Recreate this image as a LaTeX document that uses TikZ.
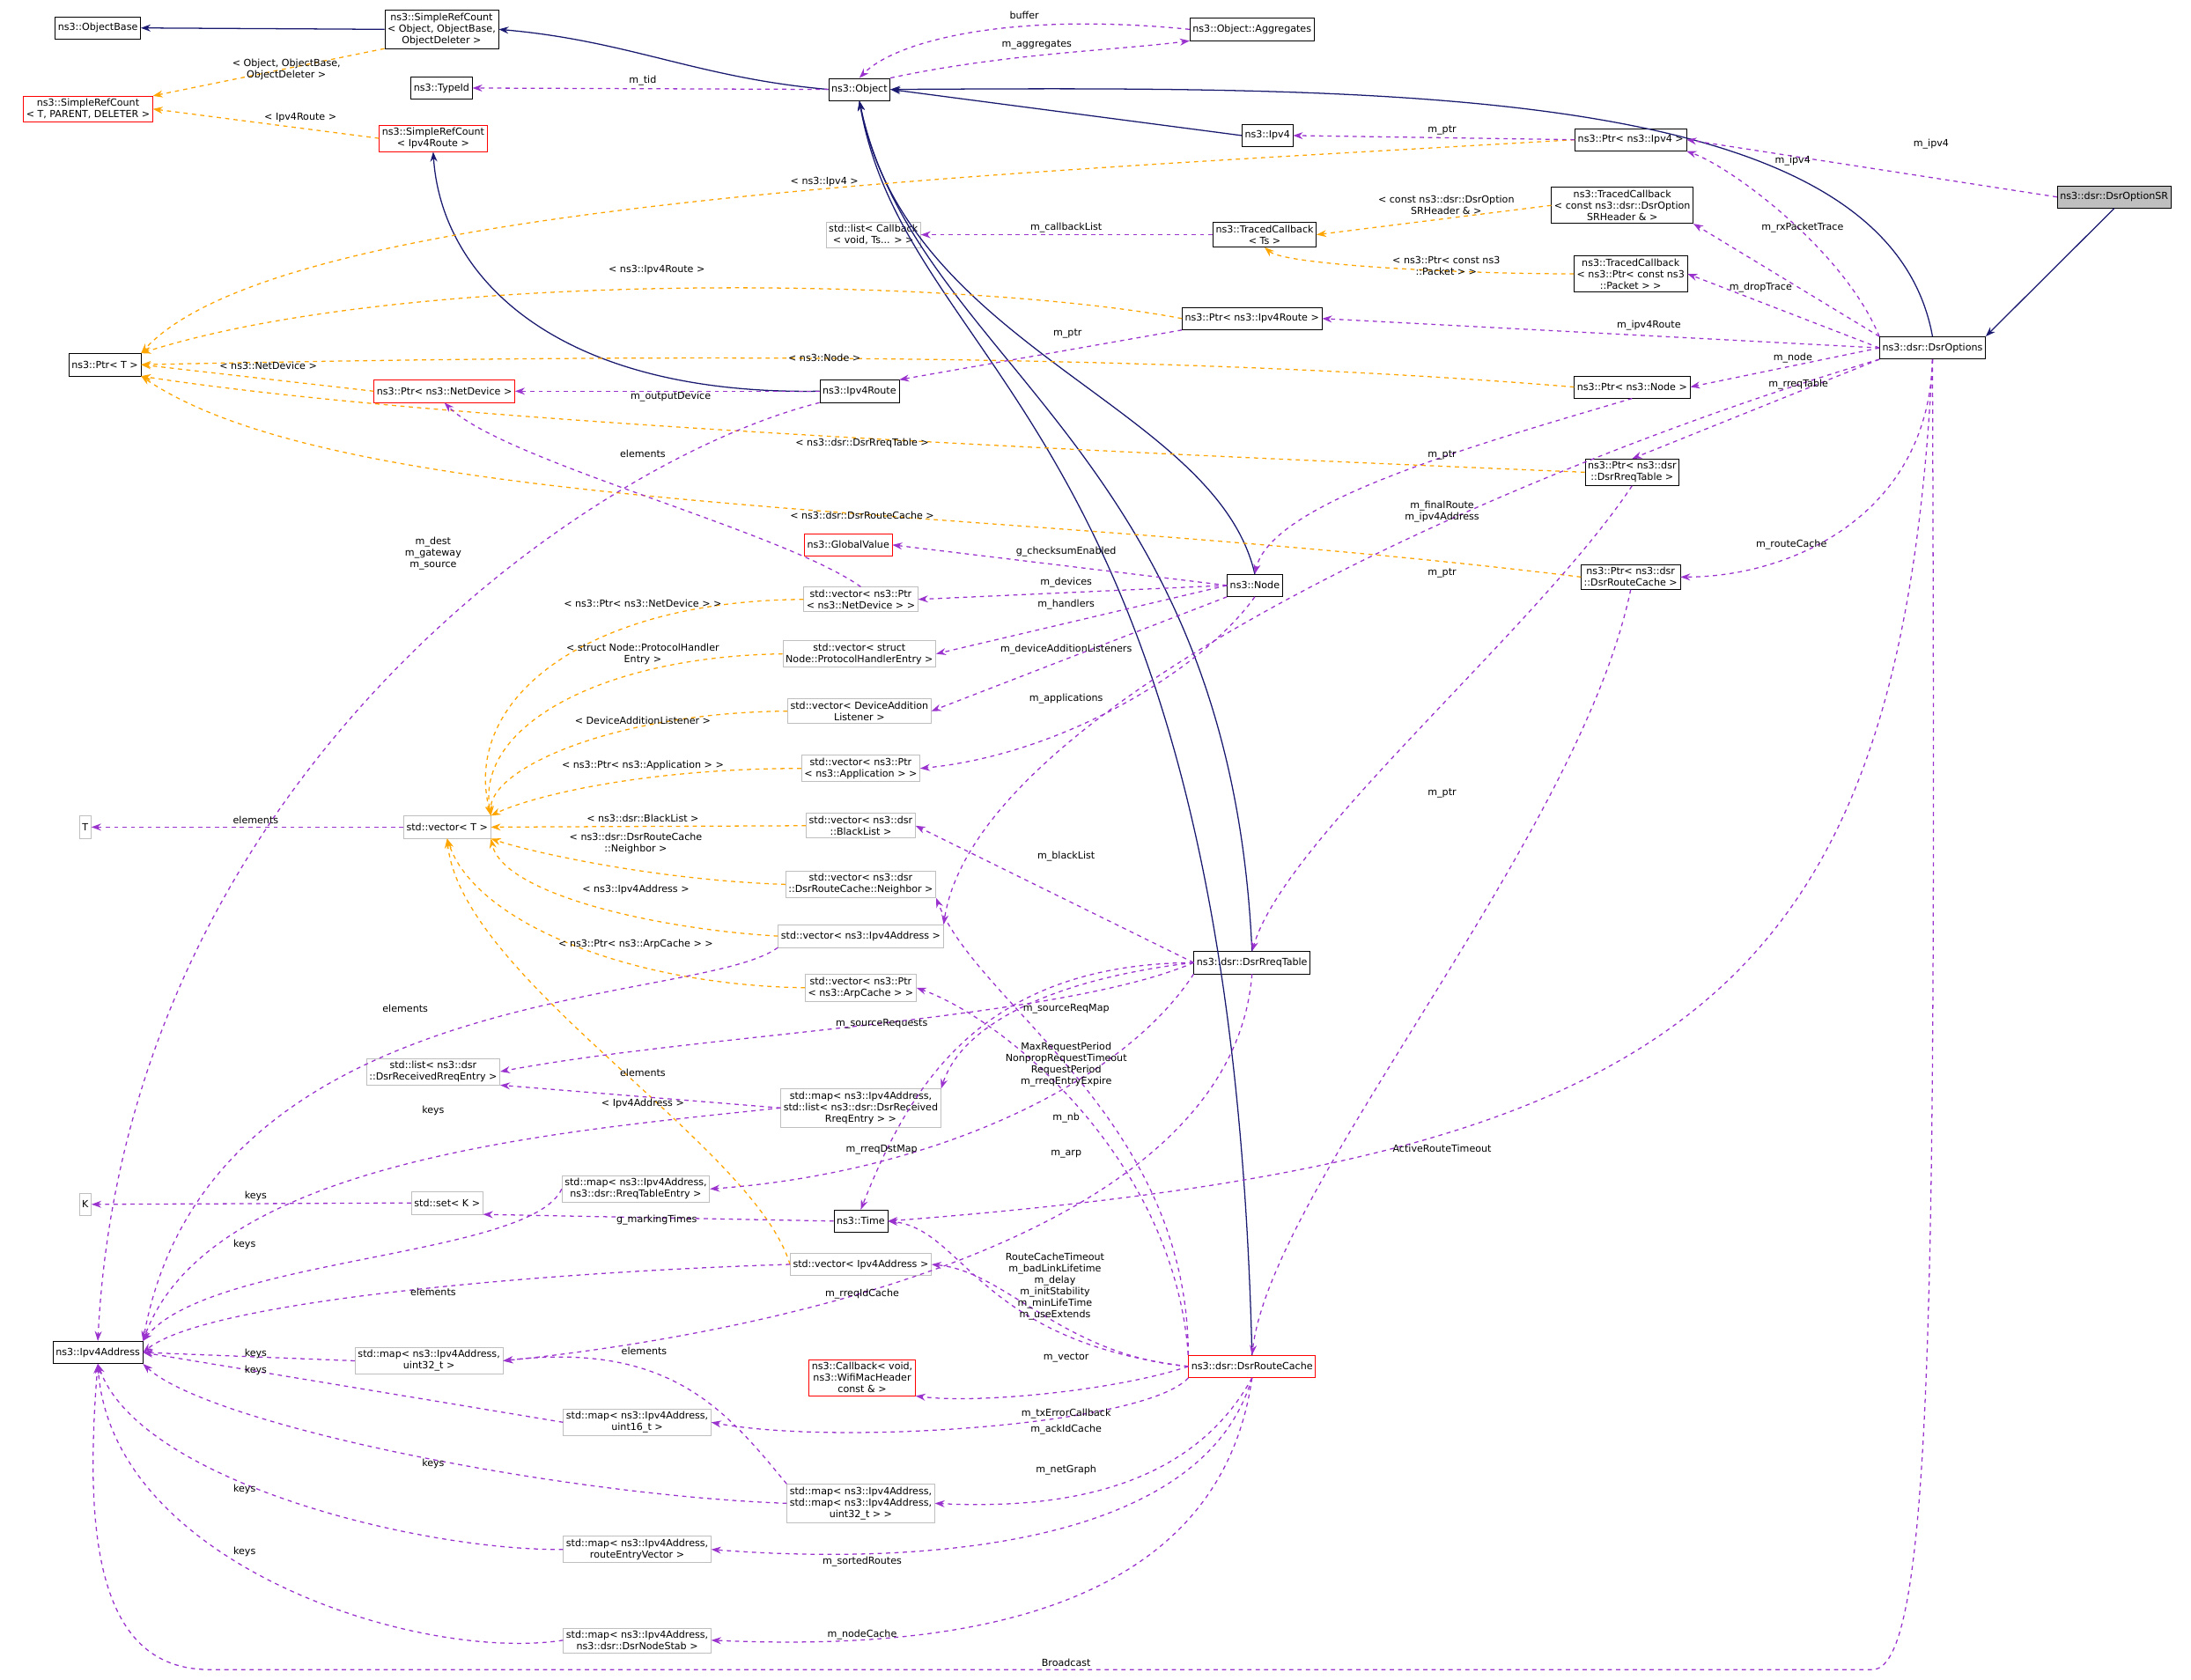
\documentclass[tikz,border=0pt]{standalone}
\usepackage{fontspec}
\setmainfont{DejaVu Sans}
\usepackage{tikz}
\usetikzlibrary{arrows.meta}
\definecolor{usecol}{HTML}{9A32CD}
\definecolor{tplcol}{HTML}{FFA500}
\definecolor{inhcol}{HTML}{191970}
\definecolor{grayline}{HTML}{BFBFBF}
\tikzset{
  cls/.style={draw=black, rectangle, inner sep=2pt, minimum height=16pt, align=center, font=\fontsize{7}{8.2}\selectfont},
  clsg/.style={cls, draw=grayline},
  clsr/.style={cls, draw=red},
  clsf/.style={cls, fill=grayline},
  inh/.style={draw=inhcol, thick, -{Stealth[length=7pt,width=5pt]}},
  tpl/.style={draw=tplcol, dashed, thick, -{Stealth[length=7pt,width=5pt]}},
  use/.style={draw=usecol, dashed, thick, -{Stealth[length=7pt,width=5pt]}},
  lbl/.style={inner sep=0pt, align=center, font=\fontsize{7}{8.2}\selectfont}
}
\newcommand{\lab}[4]{\node[lbl] (#1) at (#2,#3) {#4};}
\begin{document}
\begin{tikzpicture}[x=1pt,y=-1pt]
        \useasboundingbox (0,0) rectangle (1568,1202);

        % classes
        \node[cls] (objbase) at (70,20) {ns3::ObjectBase};
        \node[cls] (srcobj) at (316,21) {ns3::SimpleRefCount\\< Object, ObjectBase,\\ObjectDeleter >};
        \node[clsr] (srct) at (63,78) {ns3::SimpleRefCount\\< T, PARENT, DELETER >};
        \node[cls] (typeid) at (316,63) {ns3::TypeId};
        \node[cls] (object) at (615,64) {ns3::Object};
        \node[cls] (aggr) at (896,21) {ns3::Object::Aggregates};
        \node[clsr] (srcroute) at (310,99) {ns3::SimpleRefCount\\< Ipv4Route >};
        \node[cls] (ipv4) at (907,97) {ns3::Ipv4};
        \node[cls] (ptripv4) at (1167,100) {ns3::Ptr< ns3::Ipv4 >};
        \node[clsf] (optsr) at (1513,141) {ns3::dsr::DsrOptionSR};
        \node[cls] (tcsr) at (1161,147) {ns3::TracedCallback\\< const ns3::dsr::DsrOption\\SRHeader \& >};
        \node[clsg] (listcb) at (625,168) {std::list< Callback\\< void, Ts... > >};
        \node[cls] (tcts) at (905,168) {ns3::TracedCallback\\< Ts >};
        \node[cls] (tcpkt) at (1167,196) {ns3::TracedCallback\\< ns3::Ptr< const ns3\\::Packet > >};
        \node[cls] (ptrt) at (75,261) {ns3::Ptr< T >};
        \node[cls] (ptrroute) at (896,228) {ns3::Ptr< ns3::Ipv4Route >};
        \node[cls] (dsropt) at (1383,249) {ns3::dsr::DsrOptions};
        \node[clsr] (ptrnd) at (318,280) {ns3::Ptr< ns3::NetDevice >};
        \node[cls] (ipv4route) at (615,280) {ns3::Ipv4Route};
        \node[cls] (ptrnode) at (1168,277) {ns3::Ptr< ns3::Node >};
        \node[cls] (ptrrreq) at (1168,338) {ns3::Ptr< ns3::dsr\\::DsrRreqTable >};
        \node[clsr] (globalv) at (607,390) {ns3::GlobalValue};
        \node[cls] (ptrcache) at (1167,413) {ns3::Ptr< ns3::dsr\\::DsrRouteCache >};
        \node[cls] (node) at (898,419) {ns3::Node};
        \node[clsg] (vnd) at (616,429) {std::vector< ns3::Ptr\\< ns3::NetDevice > >};
        \node[clsg] (vphe) at (615,468) {std::vector< struct\\Node::ProtocolHandlerEntry >};
        \node[clsg] (vdal) at (615,509) {std::vector< DeviceAddition\\Listener >};
        \node[clsg] (vapp) at (616,550) {std::vector< ns3::Ptr\\< ns3::Application > >};
        \node[clsg] (tnode) at (61,592) {T};
        \node[clsg] (vt) at (320,592) {std::vector< T >};
        \node[clsg] (vbl) at (616,591) {std::vector< ns3::dsr\\::BlackList >};
        \node[clsg] (vnb) at (616,633) {std::vector< ns3::dsr\\::DsrRouteCache::Neighbor >};
        \node[clsg] (vip) at (616,670) {std::vector< ns3::Ipv4Address >};
        \node[cls] (rreq) at (896,689) {ns3::dsr::DsrRreqTable};
        \node[clsg] (varp) at (616,707) {std::vector< ns3::Ptr\\< ns3::ArpCache > >};
        \node[clsg] (lrre) at (310,767) {std::list< ns3::dsr\\::DsrReceivedRreqEntry >};
        \node[clsg] (mlist) at (616,793) {std::map< ns3::Ipv4Address,\\std::list< ns3::dsr::DsrReceived\\RreqEntry > >};
        \node[clsg] (knode) at (61,862) {K};
        \node[clsg] (setk) at (320,861) {std::set< K >};
        \node[clsg] (mrte) at (455,851) {std::map< ns3::Ipv4Address,\\ns3::dsr::RreqTableEntry >};
        \node[cls] (time) at (616,874) {ns3::Time};
        \node[clsg] (vipa) at (616,905) {std::vector< Ipv4Address >};
        \node[cls] (ipaddr) at (70,968) {ns3::Ipv4Address};
        \node[clsg] (m32) at (307,974) {std::map< ns3::Ipv4Address,\\uint32\_t >};
        \node[clsr] (cb) at (617,986) {ns3::Callback< void,\\ns3::WifiMacHeader\\const \& >};
        \node[clsr] (rcache) at (896,978) {ns3::dsr::DsrRouteCache};
        \node[clsg] (m16) at (456,1018) {std::map< ns3::Ipv4Address,\\uint16\_t >};
        \node[clsg] (mmap) at (616,1076) {std::map< ns3::Ipv4Address,\\std::map< ns3::Ipv4Address,\\uint32\_t > >};
        \node[clsg] (mrev) at (456,1109) {std::map< ns3::Ipv4Address,\\routeEntryVector >};
        \node[clsg] (mstab) at (456,1174) {std::map< ns3::Ipv4Address,\\ns3::dsr::DsrNodeStab >};
        \coordinate (bcr) at (1340,1195);
        \coordinate (bcl) at (150,1195);

        % inheritance
        \draw[inh] (srcobj.west) -- (objbase.east);
        \draw[inh] (object.west) to[out=175,in=-5] (srcobj.east);
        \draw[inh] (ipv4.west) -- (object.east);
        \draw[inh] (dsropt.north) .. controls (1350,60) and (1000,62) .. (object.east);
        \draw[inh] (ipv4route.west) .. controls (400,283) and (316,200) .. (srcroute.south);
        \draw[inh] (node.north) .. controls (870,290) and (650,250) .. (object.south);
        \draw[inh] (rreq.north) .. controls (880,320) and (655,260) .. (object.south);
        \draw[inh] (rcache.north) .. controls (880,300) and (650,270) .. (object.south);
        \draw[inh] (optsr.south) -- (dsropt.north east);

        % templates
        \draw[tpl] (srcobj.south west) -- (srct.north east);
        \draw[tpl] (srcroute.west) -- (srct.east);
        \draw[tpl] (ptripv4.west) .. controls (700,125) and (200,145) .. (ptrt.north east);
        \draw[tpl] (ptrroute.west) .. controls (700,200) and (300,190) .. (ptrt.north east);
        \draw[tpl] (ptrnode.west) .. controls (800,250) and (400,255) .. (ptrt.east);
        \draw[tpl] (ptrnd.west) -- (ptrt.east);
        \draw[tpl] (ptrrreq.west) .. controls (700,320) and (300,300) .. (ptrt.south east);
        \draw[tpl] (ptrcache.west) .. controls (700,360) and (250,370) .. (ptrt.south east);
        \draw[tpl] (tcsr.west) -- (tcts.east);
        \draw[tpl] (tcpkt.west) .. controls (1050,196) and (920,190) .. (tcts.south);
        \draw[tpl] (vnd.west) .. controls (420,430) and (330,500) .. (vt.north east);
        \draw[tpl] (vphe.west) .. controls (430,470) and (340,520) .. (vt.north east);
        \draw[tpl] (vdal.west) .. controls (440,510) and (350,550) .. (vt.north east);
        \draw[tpl] (vapp.west) .. controls (460,550) and (380,570) .. (vt.north east);
        \draw[tpl] (vbl.west) -- (vt.east);
        \draw[tpl] (vnb.west) .. controls (470,630) and (380,610) .. (vt.south east);
        \draw[tpl] (vip.west) .. controls (470,665) and (360,640) .. (vt.south east);
        \draw[tpl] (varp.west) .. controls (450,705) and (340,660) .. (vt.south);
        \draw[tpl] (vipa.west) .. controls (540,820) and (330,700) .. (vt.south);

        % usage
        \draw[use] (object.west) -- (typeid.east);
        \draw[use] (aggr.west) .. controls (720,8) and (640,30) .. (object.north);
        \draw[use] (object.north east) .. controls (720,38) and (800,36) .. (aggr.south west);
        \draw[use] (ptripv4.west) -- (ipv4.east);
        \draw[use] (optsr.west) -- (ptripv4.east);
        \draw[use] (dsropt.north west) .. controls (1320,180) and (1240,120) .. (ptripv4.south east);
        \draw[use] (tcts.west) -- (listcb.east);
        \draw[use] (dsropt.north west) -- (tcsr.south east);
        \draw[use] (dsropt.west) -- (tcpkt.east);
        \draw[use] (dsropt.west) -- (ptrroute.east);
        \draw[use] (ptrroute.south west) -- (ipv4route.north east);
        \draw[use] (ipv4route.west) -- (ptrnd.east);
        \draw[use] (dsropt.west) -- (ptrnode.east);
        \draw[use] (ptrnode.south) .. controls (1050,320) and (910,360) .. (node.north);
        \draw[use] (dsropt.south west) -- (ptrrreq.north);
        \draw[use] (ptrrreq.south) .. controls (1100,450) and (920,600) .. (rreq.north);
        \draw[use] (dsropt.south) .. controls (1380,370) and (1280,413) .. (ptrcache.east);
        \draw[use] (ptrcache.south) .. controls (1130,600) and (910,850) .. (rcache.north);
        \draw[use] (dsropt.south west) .. controls (1100,330) and (700,500) .. (vip.north east);
        \draw[use] (ipv4route.south west) .. controls (420,330) and (90,560) .. (ipaddr.north);
        \draw[use] (vnd.north) .. controls (560,380) and (360,330) .. (ptrnd.south);
        \draw[use] (node.west) -- (globalv.east);
        \draw[use] (node.west) -- (vnd.east);
        \draw[use] (node.west) -- (vphe.east);
        \draw[use] (node.south west) -- (vdal.east);
        \draw[use] (node.south) .. controls (860,480) and (760,540) .. (vapp.east);
        \draw[use] (vt.west) -- (tnode.east);
        \draw[use] (rreq.west) -- (vbl.east);
        \draw[use] (rreq.west) .. controls (760,730) and (500,740) .. (lrre.east);
        \draw[use] (rreq.west) .. controls (760,700) and (690,730) .. (mlist.north east);
        \draw[use] (rreq.south west) .. controls (800,780) and (660,840) .. (mrte.east);
        \draw[use] (rreq.west) .. controls (700,690) and (650,780) .. (time.north);
        \draw[use] (vip.south west) .. controls (500,720) and (150,700) .. (ipaddr.north east);
        \draw[use] (mlist.west) -- (lrre.south east);
        \draw[use] (mlist.west) .. controls (400,810) and (150,830) .. (ipaddr.north east);
        \draw[use] (mrte.west) .. controls (380,900) and (150,900) .. (ipaddr.north east);
        \draw[use] (setk.west) -- (knode.east);
        \draw[use] (time.west) -- (setk.south east);
        \draw[use] (dsropt.south) .. controls (1360,720) and (1200,830) .. (time.east);
        \draw[use] (dsropt.south) .. controls (1385,900) and (1385,1195) .. (bcr) -- (bcl) .. controls (70,1195) and (60,1100) .. (ipaddr.south);
        \draw[use] (rcache.north west) .. controls (850,800) and (700,720) .. (vnb.south east);
        \draw[use] (rcache.north west) .. controls (840,830) and (720,730) .. (varp.east);
        \draw[use] (rcache.west) .. controls (700,960) and (690,880) .. (time.east);
        \draw[use] (rcache.west) .. controls (760,970) and (720,910) .. (vipa.east);
        \draw[use] (vipa.west) .. controls (400,910) and (150,930) .. (ipaddr.east);
        \draw[use] (rreq.south) .. controls (880,900) and (500,960) .. (m32.east);
        \draw[use] (m32.west) -- (ipaddr.east);
        \draw[use] (rcache.west) .. controls (800,995) and (700,1005) .. (cb.south east);
        \draw[use] (rcache.south west) .. controls (820,1020) and (600,1035) .. (m16.east);
        \draw[use] (m16.west) -- (ipaddr.east);
        \draw[use] (rcache.south) .. controls (850,1070) and (750,1080) .. (mmap.east);
        \draw[use] (mmap.west) .. controls (400,1070) and (150,1020) .. (ipaddr.south east);
        \draw[use] (mmap.north west) .. controls (520,1010) and (480,960) .. (m32.east);
        \draw[use] (rcache.south) .. controls (860,1110) and (650,1120) .. (mrev.east);
        \draw[use] (mrev.west) .. controls (300,1110) and (100,1060) .. (ipaddr.south);
        \draw[use] (rcache.south) .. controls (870,1170) and (650,1180) .. (mstab.east);
        \draw[use] (mstab.west) .. controls (300,1190) and (80,1120) .. (ipaddr.south);

        % labels
        \lab{l1}{205}{50}{< Object, ObjectBase,\\ObjectDeleter >}
        \lab{l2}{215}{84}{< Ipv4Route >}
        \lab{l3}{590}{130}{< ns3::Ipv4 >}
        \lab{l4}{470}{193}{< ns3::Ipv4Route >}
        \lab{l5}{590}{256}{< ns3::Node >}
        \lab{l6}{192}{262}{< ns3::NetDevice >}
        \lab{l7}{617}{317}{< ns3::dsr::DsrRreqTable >}
        \lab{l8}{617}{369}{< ns3::dsr::DsrRouteCache >}
        \lab{l9}{1035}{147}{< const ns3::dsr::DsrOption\\SRHeader \& >}
        \lab{l10}{1035}{190}{< ns3::Ptr< const ns3\\::Packet > >}
        \lab{l11}{460}{432}{< ns3::Ptr< ns3::NetDevice > >}
        \lab{l12}{460}{468}{< struct Node::ProtocolHandler\\Entry >}
        \lab{l13}{460}{516}{< DeviceAdditionListener >}
        \lab{l14}{460}{548}{< ns3::Ptr< ns3::Application > >}
        \lab{l15}{460}{586}{< ns3::dsr::BlackList >}
        \lab{l16}{455}{604}{< ns3::dsr::DsrRouteCache\\::Neighbor >}
        \lab{l17}{455}{637}{< ns3::Ipv4Address >}
        \lab{l18}{455}{676}{< ns3::Ptr< ns3::ArpCache > >}
        \lab{l19}{460}{790}{< Ipv4Address >}
        \lab{l20}{460}{58}{m\_tid}
        \lab{l21}{733}{11}{buffer}
        \lab{l22}{742}{32}{m\_aggregates}
        \lab{l23}{1032}{93}{m\_ptr}
        \lab{l24}{1382}{103}{m\_ipv4}
        \lab{l25}{1283}{115}{m\_ipv4}
        \lab{l26}{763}{163}{m\_callbackList}
        \lab{l27}{1290}{163}{m\_rxPacketTrace}
        \lab{l28}{1260}{206}{m\_dropTrace}
        \lab{l29}{1180}{233}{m\_ipv4Route}
        \lab{l30}{764}{239}{m\_ptr}
        \lab{l31}{480}{284}{m\_outputDevice}
        \lab{l32}{1283}{256}{m\_node}
        \lab{l33}{1032}{326}{m\_ptr}
        \lab{l34}{1287}{275}{m\_rreqTable}
        \lab{l35}{1032}{410}{m\_ptr}
        \lab{l36}{1282}{390}{m\_routeCache}
        \lab{l37}{1032}{568}{m\_ptr}
        \lab{l38}{1032}{366}{m\_finalRoute\\m\_ipv4Address}
        \lab{l39}{310}{396}{m\_dest\\m\_gateway\\m\_source}
        \lab{l40}{460}{325}{elements}
        \lab{l41}{763}{395}{g\_checksumEnabled}
        \lab{l42}{763}{417}{m\_devices}
        \lab{l43}{763}{433}{m\_handlers}
        \lab{l44}{763}{465}{m\_deviceAdditionListeners}
        \lab{l45}{763}{500}{m\_applications}
        \lab{l46}{183}{587}{elements}
        \lab{l47}{763}{613}{m\_blackList}
        \lab{l48}{631}{733}{m\_sourceRequests}
        \lab{l49}{763}{722}{m\_sourceReqMap}
        \lab{l50}{631}{823}{m\_rreqDstMap}
        \lab{l51}{763}{762}{MaxRequestPeriod\\NonpropRequestTimeout\\RequestPeriod\\m\_rreqEntryExpire}
        \lab{l52}{290}{722}{elements}
        \lab{l53}{460}{768}{elements}
        \lab{l54}{310}{795}{keys}
        \lab{l55}{175}{891}{keys}
        \lab{l56}{183}{856}{keys}
        \lab{l57}{470}{873}{g\_markingTimes}
        \lab{l58}{1032}{822}{ActiveRouteTimeout}
        \lab{l59}{763}{1190}{Broadcast}
        \lab{l60}{763}{800}{m\_nb}
        \lab{l61}{763}{826}{m\_arp}
        \lab{l62}{755}{921}{RouteCacheTimeout\\m\_badLinkLifetime\\m\_delay\\m\_initStability\\m\_minLifeTime\\m\_useExtends}
        \lab{l63}{763}{972}{m\_vector}
        \lab{l64}{310}{925}{elements}
        \lab{l65}{617}{926}{m\_rreqIdCache}
        \lab{l66}{183}{969}{keys}
        \lab{l67}{763}{1012}{m\_txErrorCallback}
        \lab{l68}{763}{1023}{m\_ackIdCache}
        \lab{l69}{183}{981}{keys}
        \lab{l70}{763}{1052}{m\_netGraph}
        \lab{l71}{310}{1048}{keys}
        \lab{l72}{461}{967}{elements}
        \lab{l73}{617}{1118}{m\_sortedRoutes}
        \lab{l74}{175}{1066}{keys}
        \lab{l75}{617}{1170}{m\_nodeCache}
        \lab{l76}{175}{1111}{keys}
    \end{tikzpicture}
\end{document}
